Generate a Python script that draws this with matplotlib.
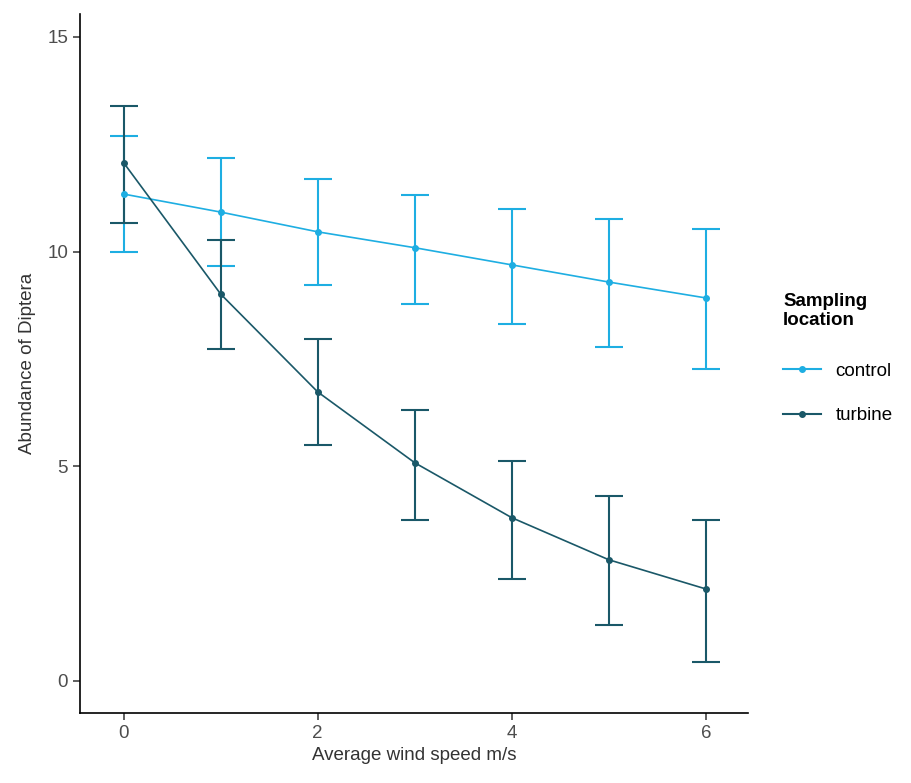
import matplotlib
matplotlib.use("Agg")
import matplotlib.pyplot as plt
from matplotlib.lines import Line2D

plt.rcParams['font.family'] = ['Liberation Sans', 'DejaVu Sans']

# wind speed (m/s)
wind = [0, 1, 2, 3, 4, 5, 6]

# control site: mean, lower and upper interval
control_mean = [11.34, 10.92, 10.46, 10.09, 9.69, 9.29, 8.92]
control_low = [9.99, 9.67, 9.22, 8.78, 8.32, 7.78, 7.27]
control_high = [12.69, 12.18, 11.69, 11.32, 10.99, 10.76, 10.53]

# turbine site
turbine_mean = [12.07, 9.01, 6.73, 5.08, 3.80, 2.82, 2.14]
turbine_low = [10.67, 7.73, 5.50, 3.75, 2.38, 1.30, 0.44]
turbine_high = [13.39, 10.27, 7.97, 6.31, 5.12, 4.31, 3.75]

groups = ["control", "turbine"]
colors = ["#1eaee2", "#1a5868"]

fig = plt.figure(figsize=(9.12, 7.83), dpi=100)
ax = fig.add_axes([0.0877, 0.0894, 0.732, 0.893])

data = [(control_mean, control_low, control_high),
        (turbine_mean, turbine_low, turbine_high)]
handles = []
for (m, lo, hi), name, col in zip(data, groups, colors):
    err = [[a - b for a, b in zip(m, lo)], [b - a for a, b in zip(m, hi)]]
    ax.errorbar(wind, m, yerr=err, color=col, lw=1.2, elinewidth=1.5,
                capsize=10, capthick=1.5, marker="o", markersize=4)
    handles.append(Line2D([], [], color=col, lw=1.5, marker="o", markersize=4, label=name))

ax.set_xlim(-0.45, 6.43)
ax.set_ylim(-0.75, 15.54)
ax.set_xticks([0, 2, 4, 6])
ax.set_yticks([0, 5, 10, 15])
for s in ["top", "right"]:
    ax.spines[s].set_visible(False)
for s in ["left", "bottom"]:
    ax.spines[s].set_linewidth(1.2)
ax.tick_params(labelsize=13.5, colors="#333333", length=5, width=1.1, labelcolor="#4d4d4d")
ax.set_xlabel("Average wind speed m/s", fontsize=13.5, color="#333333", labelpad=4)
ax.set_ylabel("Abundance of Diptera", fontsize=13.5, color="#333333", labelpad=8)

leg = ax.legend(handles=handles, title="Sampling\nlocation", loc="center left",
                bbox_to_anchor=(1.028, 0.507), frameon=False, fontsize=13.5,
                title_fontsize=13.5, handlelength=2, handletextpad=0.8,
                labelspacing=1.45)
leg.get_title().set_fontweight("bold")
leg._legend_box.align = "left"
leg._legend_box.sep = 24

fig.savefig("out.png", dpi=100)
